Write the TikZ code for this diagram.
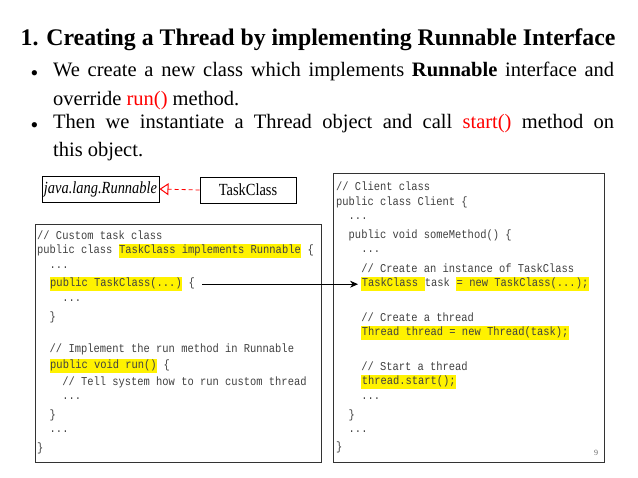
\documentclass[tikz,border=0pt]{standalone}
\usepackage{fontspec}
\setmainfont{Liberation Serif}
\newfontfamily\codefont{Liberation Mono}[FakeStretch=0.87]
\newfontfamily\boxfont{Liberation Serif}[FakeStretch=0.85]
\usetikzlibrary{arrows.meta}
\newcommand{\hl}[1]{{\setlength{\fboxsep}{0.5pt}\colorbox{yellow}{\strut #1}}}
\newcommand{\dts}{...}
\begin{document}
\begin{tikzpicture}[x=1pt,y=-1pt,
  code/.style={anchor=west,inner sep=0pt,font=\fontsize{12}{13}\codefont,text=black!75},
  bul/.style={anchor=north west,inner sep=0pt,text width=561pt,align=justify,font=\fontsize{20.5}{28.5}\selectfont},
  umlbox/.style={draw,thick,minimum height=26pt,inner sep=2pt}]
\useasboundingbox (0,0) rectangle (638,478);
\node[anchor=center,font=\fontsize{23.8}{26}\bfseries] (title) at (318,40) {1. Creating a Thread by implementing Runnable Interface};
\node[anchor=west,font=\fontsize{22}{22}\selectfont] (b1) at (27,76) {•};
\node[anchor=west,font=\fontsize{22}{22}\selectfont] (b2) at (27,128) {•};
\node[bul] (t1) at (53,62) {We create a new class which implements \textbf{Runnable} interface and\linebreak override \textcolor{red}{run()} method.};
\node[bul] (t2) at (53,114) {Then we instantiate a Thread object and call \textcolor{red}{start()} method on\linebreak this object.};
\node[umlbox,minimum width=113pt,font=\fontsize{17}{18}\boxfont\itshape] (run) at (100.5,189) {java.lang.Runnable};
\node[umlbox,minimum width=96pt,font=\fontsize{17}{18}\boxfont] (tc) at (248,190) {TaskClass};
\draw[red,thick,dash pattern=on 4pt off 3pt,-{Triangle[open,length=9pt,width=12pt,line width=1pt]}] (tc.west) -- (run.east);
\draw[thick,black!80] (35,224) rectangle (321,462);
\draw[thick,black!80] (333,173) rectangle (604,462);
\foreach \cl [count=\i from 0] in {
  {// Custom task class},
  {public class \hl{TaskClass implements Runnable} \{},
  {\ \ \dts},
  {\ \ \hl{public TaskClass(\dts)} \{},
  {\ \ \ \ \dts},
  {\ \ \}},
  {\relax},
  {\ \ // Implement the run method in Runnable},
  {\ \ \hl{public void run()} \{},
  {\ \ \ \ // Tell system how to run custom thread},
  {\ \ \ \ \dts},
  {\ \ \}},
  {\ \ \dts},
  {\}}}
  \node[code] (L\i) at (37,235+16.4*\i) {\cl};
\foreach \cl [count=\i from 0] in {
  {// Client class},
  {public class Client \{},
  {\ \ \dts},
  {\ \ public void someMethod() \{},
  {\ \ \ \ \dts},
  {\ \ \ \ // Create an instance of TaskClass},
  {\ \ \ \ \hl{TaskClass }task \hl{= new TaskClass(\dts);}},
  {\relax},
  {\ \ \ \ // Create a thread},
  {\ \ \ \ \hl{Thread thread = new Thread(task);}},
  {\relax},
  {\ \ \ \ // Start a thread},
  {\ \ \ \ \hl{thread.start();}},
  {\ \ \ \ \dts},
  {\ \ \}},
  {\ \ \dts},
  {\}}}
  \node[code] (R\i) at (336,186+16.35*\i) {\cl};
\coordinate (src) at ([xshift=7pt]L3.east);
\coordinate (dst) at ([xshift=22pt]R6.west |- L3.east);
\draw[thick,-{Stealth[length=8pt,width=7pt]}] (src) -- (dst);
\node[font=\fontsize{8}{9}\selectfont,text=black!60] (pg) at (596,453) {9};
\end{tikzpicture}
\end{document}
